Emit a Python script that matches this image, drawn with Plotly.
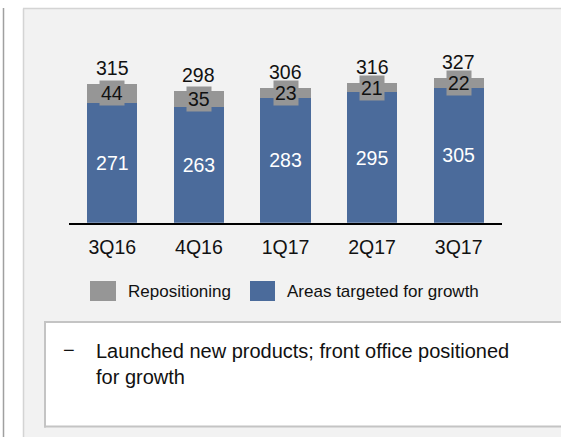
import plotly.graph_objects as go

categories = ["3Q16", "4Q16", "1Q17", "2Q17", "3Q17"]
growth = [271, 263, 283, 295, 305]
repositioning = [44, 35, 23, 21, 22]
totals = [315, 298, 306, 316, 327]

W, H = 561, 437
BLUE = "#4b6b9b"
GRAY = "#969696"
FONT = "Liberation Sans, Arial, sans-serif"
TXT = "#111111"


def X(px):
    return px / W


def Y(py):
    return 1 - py / H


fig = go.Figure()
fig.add_trace(go.Bar(
    x=categories, y=growth, name="Areas targeted for growth",
    marker=dict(color=BLUE, line=dict(width=0)), width=0.58,
    text=[str(v) for v in growth], textposition="inside",
    insidetextanchor="middle", textangle=0,
    textfont=dict(family=FONT, size=19.5, color="white"),
    showlegend=False, hoverinfo="skip",
))
fig.add_trace(go.Bar(
    x=categories, y=repositioning, name="Repositioning",
    marker=dict(color=GRAY, line=dict(width=0)), width=0.58,
    showlegend=False, hoverinfo="skip",
))

annotations = []
for c, g, r, t in zip(categories, growth, repositioning, totals):
    annotations.append(dict(
        x=c, y=g + r / 2, xref="x", yref="y", text=str(r), showarrow=False,
        font=dict(family=FONT, size=19.5, color=TXT), bgcolor=GRAY,
        borderpad=1, xanchor="center", yanchor="middle",
    ))
    annotations.append(dict(
        x=c, y=t, xref="x", yref="y", text=str(t), showarrow=False,
        font=dict(family=FONT, size=19.5, color=TXT),
        xanchor="center", yanchor="bottom", yshift=3,
    ))

annotations += [
    dict(x=X(126), y=Y(291.5), xref="paper", yref="paper", text="Repositioning",
         showarrow=False, xanchor="left", yanchor="middle",
         font=dict(family=FONT, size=17, color=TXT)),
    dict(x=X(285), y=Y(291.5), xref="paper", yref="paper", text="Areas targeted for growth",
         showarrow=False, xanchor="left", yanchor="middle",
         font=dict(family=FONT, size=17, color=TXT)),
    dict(x=X(68.5), y=Y(350), xref="paper", yref="paper", text="\u2212",
         showarrow=False, xanchor="center", yanchor="middle",
         font=dict(family=FONT, size=20, color=TXT)),
    dict(x=X(94), y=Y(351), xref="paper", yref="paper",
         text="Launched new products; front office positioned",
         showarrow=False, xanchor="left", yanchor="middle",
         font=dict(family=FONT, size=20, color=TXT)),
    dict(x=X(94), y=Y(377), xref="paper", yref="paper", text="for growth",
         showarrow=False, xanchor="left", yanchor="middle",
         font=dict(family=FONT, size=20, color=TXT)),
]


def hline(py, x0, x1, color, width, layer="above"):
    return dict(type="line", xref="paper", yref="paper", x0=X(x0), x1=X(x1), y0=Y(py), y1=Y(py),
                line=dict(color=color, width=width), layer=layer)


def vline(px, y0, y1, color, width, layer="above"):
    return dict(type="line", xref="paper", yref="paper", x0=X(px), x1=X(px), y0=Y(y0), y1=Y(y1),
                line=dict(color=color, width=width), layer=layer)


shapes = [
    # panel fill and borders (top and left only)
    dict(type="rect", xref="paper", yref="paper", x0=X(23), x1=1, y0=Y(8.5), y1=0,
         fillcolor="#f2f2f2", line=dict(width=0), layer="below"),
    hline(8.5, 23, W, "#d4d4d4", 1.5, "below"),
    vline(23.5, 8.5, H, "#d4d4d4", 1.5, "below"),
    # left divider line
    vline(3.5, 8, H, "#a0a0a0", 1.5, "below"),
    # legend swatches
    dict(type="rect", xref="paper", yref="paper", x0=X(90), x1=X(116), y0=Y(281), y1=Y(301),
         fillcolor=GRAY, line=dict(width=0)),
    dict(type="rect", xref="paper", yref="paper", x0=X(250), x1=X(275), y0=Y(281), y1=Y(301),
         fillcolor=BLUE, line=dict(width=0)),
    # text box fill and borders (top, left, bottom)
    dict(type="rect", xref="paper", yref="paper", x0=X(45), x1=1, y0=Y(322), y1=Y(426.5),
         fillcolor="white", line=dict(width=0)),
    hline(322, 44, W, "#c4c4c4", 2),
    hline(426.5, 44, W, "#c4c4c4", 2),
    vline(45, 321, 427.5, "#c4c4c4", 2),
]

base_py, top_py = 222.7, 40.0
px_per_unit = 0.4417
ymax = (base_py - top_py) / px_per_unit

fig.update_layout(
    width=W, height=H,
    margin=dict(l=0, r=0, t=0, b=0, autoexpand=False),
    paper_bgcolor="white", plot_bgcolor="rgba(0,0,0,0)",
    barmode="stack", bargap=0.42,
    showlegend=False,
    xaxis=dict(domain=[X(69), X(502)], range=[-0.5, 4.5], showline=True,
               linecolor="black", linewidth=1.5, ticks="", showgrid=False,
               zeroline=False, automargin=False,
               tickfont=dict(family=FONT, size=19.5, color=TXT),
               ticklabelstandoff=6),
    yaxis=dict(domain=[Y(base_py), Y(top_py)], range=[0, ymax], visible=False,
               showgrid=False, zeroline=False, automargin=False),
    annotations=annotations,
    shapes=shapes,
    uniformtext=dict(mode=False),
)

fig.write_html(
    "out.html",
    config={"displayModeBar": False},
    post_script="document.body.style.margin='0';document.body.style.overflow='hidden';",
)
